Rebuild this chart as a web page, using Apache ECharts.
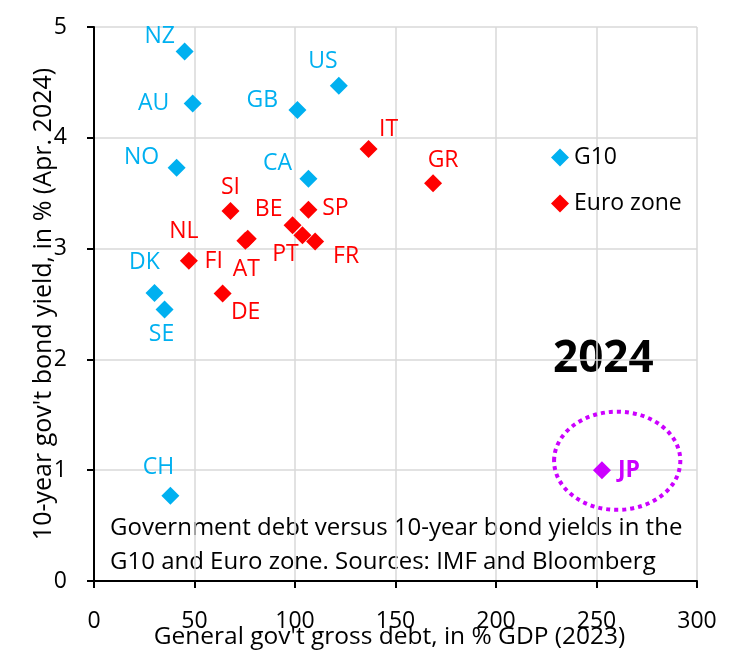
<!DOCTYPE html>
<html><head><meta charset="utf-8">
<script src="https://cdn.jsdelivr.net/npm/echarts@6/dist/echarts.min.js"></script>
<style>html,body{margin:0;padding:0;background:#fff}#c{width:743px;height:657px}</style>
</head><body><div id="c"></div>
<script>
// ---- data ----
const g10Names = ['NZ','AU','GB','US','NO','CA','DK','SE','CH'];
const g10Debt  = [45.1, 49.1, 101.2, 121.8, 41.1, 106.7, 30.1, 35.1, 38.0];
const g10Yield = [4.78, 4.31, 4.25, 4.47, 3.73, 3.63, 2.60, 2.45, 0.77];

const euroNames = ['IT','GR','SI','BE','SP','NL','FI','AT','PT','FR','DE'];
const euroDebt  = [136.6, 168.7, 67.9, 98.8, 106.7, 47.2, 76.5, 75.3, 103.7, 110.0, 64.0];
const euroYield = [3.90, 3.59, 3.34, 3.21, 3.35, 2.89, 3.09, 3.07, 3.12, 3.065, 2.595];

const jpNames = ['JP'];
const jpDebt  = [252.7];
const jpYield = [1.00];

const xTicks = [0, 50, 100, 150, 200, 250, 300];
const yTicks = [0, 1, 2, 3, 4, 5];

// ---- label placement (pixel offsets from marker) ----
const labelOffsets = {
  NZ:[-25,-15], AU:[-39,0], GB:[-35,-10], US:[-16,-24], NO:[-35,-10], CA:[-31,-15],
  DK:[-10,-30], SE:[-3,25], CH:[-12,-28],
  IT:[20,-19], GR:[10,-23], SI:[0,-23], BE:[-24,-16], SP:[27,-1], NL:[-5,-29],
  FI:[-34,23], AT:[1,29], PT:[-17,19], FR:[31,15], DE:[23,19], JP:[27,0]
};

const BLUE = '#00B0F0', RED = '#FF0000', MAG = '#CC00FF';
const FONT = 'Open Sans';

function build(names, xs, ys, color, bold) {
  return names.map((n, i) => ({
    name: n, value: [xs[i], ys[i]],
    label: {
      show: true, formatter: n, position: 'inside',
      offset: labelOffsets[n], color: color, fontSize: 23, fontFamily: FONT,
      fontWeight: bold ? 'bold' : 'normal', opacity: 1
    }
  }));
}

const chart = echarts.init(document.getElementById('c'), null, {renderer: 'canvas'});
chart.setOption({
  animation: false,
  backgroundColor: '#fff',
  grid: {left: 94, right: 46, top: 27, bottom: 76, containLabel: false, outerBoundsMode: 'none'},
  xAxis: {
    type: 'value', min: xTicks[0], max: xTicks[xTicks.length-1], interval: 50,
    name: "General gov't gross debt, in % GDP (2023)", nameLocation: 'middle', nameGap: 44,
    nameMoveOverlap: false,
    nameTextStyle: {fontSize: 24.5, fontFamily: FONT, color: '#000', padding: [0, 12, 0, 0]},
    axisLine: {show: true, onZero: false, lineStyle: {color: '#000', width: 2}},
    axisTick: {show: true, inside: false, length: 7, lineStyle: {color: '#000', width: 2}},
    axisLabel: {fontSize: 23, fontFamily: FONT, color: '#000', margin: 29},
    splitLine: {show: true, lineStyle: {color: '#D9D9D9', width: 1.5}}
  },
  yAxis: {
    type: 'value', min: yTicks[0], max: yTicks[yTicks.length-1], interval: 1,
    name: "10-year gov't bond yield, in % (Apr. 2024)", nameLocation: 'middle', nameGap: 38,
    nameMoveOverlap: false,
    nameTextStyle: {fontSize: 25, fontFamily: FONT, color: '#000'},
    axisLine: {show: true, onZero: false, lineStyle: {color: '#000', width: 2}},
    axisTick: {show: true, inside: false, length: 7, lineStyle: {color: '#000', width: 2}},
    axisLabel: {fontSize: 23, fontFamily: FONT, color: '#000', margin: 27},
    splitLine: {show: true, lineStyle: {color: '#D9D9D9', width: 1.5}}
  },
  legend: {
    data: ['G10', 'Euro zone'], orient: 'vertical', left: 546, top: 141,
    itemWidth: 18, itemHeight: 18, itemGap: 23, icon: 'diamond',
    textStyle: {fontSize: 23, fontFamily: FONT, color: '#000'}
  },
  series: [
    {
      name: 'G10', type: 'scatter', symbol: 'diamond', symbolSize: 18,
      itemStyle: {color: BLUE, opacity: 1}, data: build(g10Names, g10Debt, g10Yield, BLUE, false), z: 3
    },
    {
      name: 'Euro zone', type: 'scatter', symbol: 'diamond', symbolSize: 18,
      itemStyle: {color: RED, opacity: 1}, data: build(euroNames, euroDebt, euroYield, RED, false), z: 3
    },
    {
      name: 'Japan', type: 'scatter', symbol: 'diamond', symbolSize: 18,
      itemStyle: {color: MAG, opacity: 1}, data: build(jpNames, jpDebt, jpYield, MAG, true), z: 3
    },
    {
      name: 'circle', type: 'custom', silent: true, z: 2,
      data: [[260.3, 1.085, 31.4, 0.443]],
      renderItem: function (params, api) {
        const c = api.coord([api.value(0), api.value(1)]);
        const e = api.coord([api.value(0) + api.value(2), api.value(1) + api.value(3)]);
        return {
          type: 'ellipse',
          shape: {cx: c[0], cy: c[1], rx: Math.abs(e[0]-c[0]), ry: Math.abs(c[1]-e[1])},
          style: {fill: 'none', stroke: MAG, lineWidth: 4, lineDash: [4, 4]}
        };
      }
    }
  ],
  graphic: [
    {type: 'text', left: 110, top: 511, style: {
      text: 'Government debt versus 10-year bond yields in the\nG10 and Euro zone. Sources: IMF and Bloomberg',
      fontSize: 24, fontFamily: FONT, fill: '#000', lineHeight: 34}},
    {type: 'text', left: 553, top: 337, style: {
      text: '2024', fontSize: 44, fontWeight: 'bold', fontFamily: FONT, fill: '#000'}}
  ]
});
</script>
</body></html>
